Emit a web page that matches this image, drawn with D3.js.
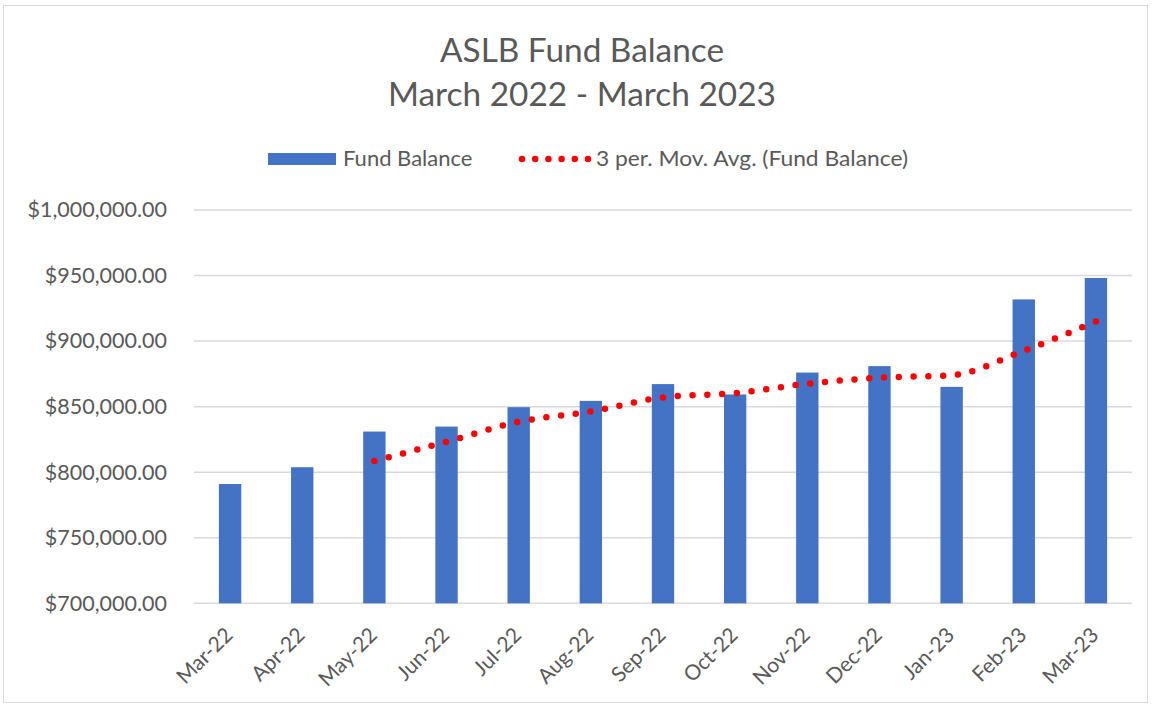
<!DOCTYPE html>
<html><head><meta charset="utf-8">
<script src="https://cdn.jsdelivr.net/npm/d3@7"></script>
<style>body{margin:0;background:#fff;} svg{display:block;font-family:Lato,"Open Sans",sans-serif;}</style>
</head><body>
<svg id="c" width="1154" height="707"></svg>
<script>
const months = ["Mar-22","Apr-22","May-22","Jun-22","Jul-22","Aug-22","Sep-22","Oct-22","Nov-22","Dec-22","Jan-23","Feb-23","Mar-23"];
const balance = [791000, 803800, 831000, 834800, 849600, 854400, 867200, 859300, 876000, 880900, 865100, 931800, 948100];
const yTicks = [700000, 750000, 800000, 850000, 900000, 950000, 1000000];
const titleLines = ["ASLB Fund Balance", "March 2022 - March 2023"];
const legendLabels = ["Fund Balance", "3 per. Mov. Avg. (Fund Balance)"];
const maPeriod = 3;

const svg = d3.select("#c");
const m = {left:194, right:1132, top:210, bottom:603.3};

svg.append("rect").attr("x",3.5).attr("y",5.5).attr("width",1144).attr("height",697)
  .attr("fill","#fff").attr("stroke","#d9d9d9").attr("stroke-width",1);

const x = d3.scaleBand().domain(months).range([m.left, m.right]).paddingInner(0.69).paddingOuter(0.345);
const y = d3.scaleLinear().domain([700000, 1000000]).range([m.bottom, m.top]);

// gridlines
svg.append("g").selectAll("line").data(yTicks).join("line")
  .attr("x1", m.left).attr("x2", m.right)
  .attr("y1", d=>y(d)).attr("y2", d=>y(d))
  .attr("stroke","#d9d9d9").attr("stroke-width",1.5);

// y axis labels
const fmt = d3.format("$,.2f");
const yAxis = d3.axisLeft(y).tickValues(yTicks).tickFormat(fmt).tickSize(0).tickPadding(27);
const gy = svg.append("g").attr("transform",`translate(${m.left},0)`).call(yAxis);
gy.select(".domain").remove();
gy.selectAll("text").attr("fill","#595959").style("font-size","21.5px").style("font-family","Lato");

// bars
svg.append("g").selectAll("rect").data(balance).join("rect")
  .attr("x",(d,i)=>x(months[i])).attr("width",x.bandwidth())
  .attr("y",d=>y(d)).attr("height",d=>y(700000)-y(d))
  .attr("fill","#4472c4");

// moving average trendline
const ma = [];
for (let i = maPeriod-1; i < balance.length; i++) {
  ma.push({m: months[i], v: d3.mean(balance.slice(i-maPeriod+1, i+1))});
}
const line = d3.line().x(d=>x(d.m)+x.bandwidth()/2).y(d=>y(d.v)).curve(d3.curveMonotoneX);
svg.append("path").datum(ma).attr("d",line).attr("fill","none")
  .attr("stroke","#ff0000").attr("stroke-width",6.5).attr("stroke-linecap","round")
  .attr("stroke-dasharray","0 14.8");

// x axis
const xAxis = d3.axisBottom(x).tickSize(0).tickPadding(0);
const gx = svg.append("g").attr("transform",`translate(0,${m.bottom})`).call(xAxis);
gx.select(".domain").remove();
gx.selectAll("text").attr("fill","#595959").style("font-size","21px").style("font-family","Lato")
  .attr("text-anchor","end").attr("dy",null).attr("y",0)
  .attr("transform","translate(4,33) rotate(-45)");

// title
const titleW = [284, 388];
svg.append("g").selectAll("text").data(titleLines).join("text")
  .attr("x",582).attr("y",(d,i)=>62+i*44).attr("text-anchor","middle")
  .attr("textLength",(d,i)=>titleW[i]).attr("lengthAdjust","spacingAndGlyphs")
  .attr("fill","#595959").style("font-size","32px").text(d=>d);

// legend
const lg = svg.append("g");
lg.append("rect").attr("x",268).attr("y",153).attr("width",68).attr("height",12).attr("fill","#4472c4");
lg.append("text").attr("x",343).attr("y",165.5).attr("fill","#595959").style("font-size","22px").text(legendLabels[0]);
lg.append("line").attr("x1",522).attr("x2",588).attr("y1",159).attr("y2",159)
  .attr("stroke","#ff0000").attr("stroke-width",6.5).attr("stroke-linecap","round").attr("stroke-dasharray","0 13.2");
lg.append("text").attr("x",596).attr("y",165.5).attr("fill","#595959").style("font-size","22px")
  .attr("textLength",312).attr("lengthAdjust","spacingAndGlyphs").text(legendLabels[1]);
</script>
</body></html>
